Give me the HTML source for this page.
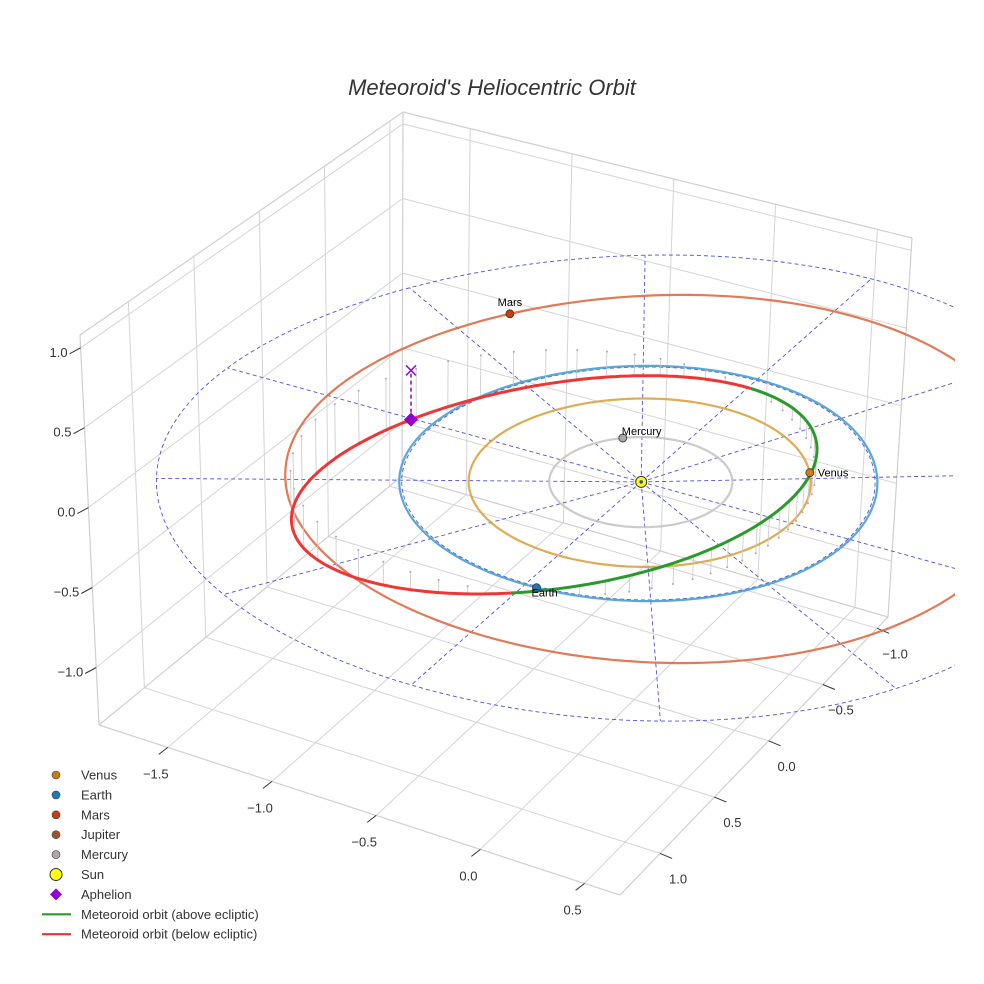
<!DOCTYPE html>
<html><head><meta charset="utf-8">
<style>
html,body{margin:0;padding:0;background:#fff;}
svg{display:block;font-family:"Liberation Sans",sans-serif;}
</style></head>
<body>
<svg id="chart" width="984" height="984" viewBox="0 0 984 984">
<defs><clipPath id="plotclip"><rect x="0" y="0" width="955" height="984"/></clipPath></defs>
<rect width="984" height="984" fill="#fff"/>
<text x="492" y="95" text-anchor="middle" font-size="22" font-style="italic" fill="#333">Meteoroid's Heliocentric Orbit</text>
<g id="grid"></g>
<g id="ticks"></g>
<g id="plot" clip-path="url(#plotclip)"></g>
<g id="legend"></g>
</svg>
<script>
// ---- data ----
const xTicks = [-1.5, -1.0, -0.5, 0.0, 0.5];
const yTicks = [1.0, 0.5, 0.0, -0.5, -1.0];
const zTicks = [1.0, 0.5, 0.0, -0.5, -1.0];
const planetNames = ["Mercury", "Venus", "Earth", "Mars"];
const planetRadius = [0.387, 0.723, 1.01, 1.58];
const planetCenterX = [0, 0, 0, 0.06];
const planetCenterY = [0, 0, 0, -0.1];
const planetAngleDeg = [-131, -35, 87, -145];
const planetOrbitColors = ["#c8c4c4", "#d9a441", "#4a9fd0", "#e06a45"];
const planetMarkerColors = ["#a9a9a9", "#d07f10", "#1f77b4", "#cc3d0e"];
const refRings = [1.0, 2.0];
const radialAnglesDeg = [0, 30, 60, 90, 120, 150, 180, 210, 240, 270, 300, 330];
// meteoroid orbital elements: a, e, inclination, node, arg of perihelion
const orbitA = [1.13];
const orbitE = [0.335];
const orbitIncDeg = [13.5];
const orbitNodeDeg = [-90];
const orbitPeriDeg = [76];
const aphelionNuDeg = [209];
const legendLabels = ["Venus","Earth","Mars","Jupiter","Mercury","Sun","Aphelion","Meteoroid orbit (above ecliptic)","Meteoroid orbit (below ecliptic)"];
const legendColors = ["#c87f0a","#1f77b4","#cc3d0e","#a0522d","#b0a8a8","#ffff00","#9400d3","#2a9a2a","#f03030"];

// ---- projection ----
const X0=-1.83,X1=0.67,Y0=1.37,Y1=-1.1,Z0=-1.36,Z1=1.08;
const Bb=[99,725],Cb=[620,895],Ab=[402,476],Db=[888,617];
const Bt=[80,335],Ct=[635,478],At=[403,112],Dt=[912,238];
function lerp(p,q,t){return [p[0]+(q[0]-p[0])*t,p[1]+(q[1]-p[1])*t];}
function P(x,y,z){
  const fx=(x-X0)/(X1-X0), t=(y-Y0)/(Y1-Y0), fz=(z-Z0)/(Z1-Z0);
  const bot=lerp(lerp(Bb,Cb,fx),lerp(Ab,Db,fx),t);
  const top=lerp(lerp(Bt,Ct,fx),lerp(At,Dt,fx),t);
  return lerp(bot,top,fz);
}
const NS="http://www.w3.org/2000/svg";
function mk(tag,attrs,parent){const e=document.createElementNS(NS,tag);for(const k in attrs)e.setAttribute(k,attrs[k]);parent.appendChild(e);return e;}
function line(p,q,st,parent){return mk('line',Object.assign({x1:p[0].toFixed(1),y1:p[1].toFixed(1),x2:q[0].toFixed(1),y2:q[1].toFixed(1)},st),parent);}
function pathFrom(pts){return pts.map((p,i)=>(i?'L':'M')+p[0].toFixed(1)+','+p[1].toFixed(1)).join('');}

const grid=document.getElementById('grid'), ticks=document.getElementById('ticks'), plot=document.getElementById('plot'), legend=document.getElementById('legend');
const gst={stroke:'#d4d4d4','stroke-width':1};
xTicks.forEach(x=>{const l=line(P(x,Y0,Z0),P(x,Y1,Z0),gst,grid);

});
yTicks.forEach(y=>{const l=line(P(X0,y,Z0),P(X1,y,Z0),gst,grid);

});
yTicks.forEach(y=>{const l=line(P(X0,y,Z0),P(X0,y,Z1),gst,grid);

});
zTicks.forEach(z=>{const l=line(P(X0,Y0,z),P(X0,Y1,z),gst,grid);

});
xTicks.forEach(x=>{const l=line(P(x,Y1,Z0),P(x,Y1,Z1),gst,grid);

});
zTicks.forEach(z=>{const l=line(P(X0,Y1,z),P(X1,Y1,z),gst,grid);

});
const est={stroke:'#cfcfcf','stroke-width':1.2};
[[P(X0,Y0,Z0),P(X1,Y0,Z0)],[P(X1,Y0,Z0),P(X1,Y1,Z0)],[P(X0,Y0,Z0),P(X0,Y1,Z0)],[P(X0,Y1,Z0),P(X1,Y1,Z0)],
 [P(X0,Y0,Z0),P(X0,Y0,Z1)],[P(X0,Y1,Z0),P(X0,Y1,Z1)],[P(X1,Y1,Z0),P(X1,Y1,Z1)],
 [P(X0,Y0,Z1),P(X0,Y1,Z1)],[P(X0,Y1,Z1),P(X1,Y1,Z1)]].forEach(e=>{const l=line(e[0],e[1],est,grid);

});

const tst={stroke:'#333','stroke-width':1};
xTicks.forEach(x=>{const p=P(x,Y0,Z0);line(p,[p[0]-9,p[1]+7],tst,ticks);
const t=mk('text',{x:(p[0]-12).toFixed(1),y:(p[1]+31).toFixed(1),'text-anchor':'middle','font-size':13,fill:'#333'},ticks);
t.textContent=(x<0?'\u2212':'')+Math.abs(x).toFixed(1);

});
yTicks.forEach(y=>{const p=P(X1,y,Z0);line(p,[p[0]+12,p[1]+5],tst,ticks);
const t=mk('text',{x:(p[0]+18).toFixed(1),y:(p[1]+30).toFixed(1),'text-anchor':'middle','font-size':13,fill:'#333'},ticks);
t.textContent=(y<0?'\u2212':'')+Math.abs(y).toFixed(1);

});
zTicks.forEach(z=>{const p=P(X0,Y0,z);line(p,[p[0]-11,p[1]+6],tst,ticks);
const t=mk('text',{x:(p[0]-13).toFixed(1),y:(p[1]+9).toFixed(1),'text-anchor':'end','font-size':13,fill:'#333'},ticks);
t.textContent=(z<0?'\u2212':'')+Math.abs(z).toFixed(1);

});

const dst={stroke:'#5050e0','stroke-width':0.9,'stroke-dasharray':'4,3',fill:'none'};
refRings.forEach(r=>{const pts=[];for(let a=0;a<=360;a+=2){const th=a*Math.PI/180;pts.push(P(r*Math.cos(th),r*Math.sin(th),0));}
const p=mk('path',Object.assign({d:pathFrom(pts)},dst),plot);

});
radialAnglesDeg.forEach(a=>{const th=a*Math.PI/180;const R=refRings[refRings.length-1];
const l=line(P(0,0,0),P(R*Math.cos(th),R*Math.sin(th),0),dst,plot);

});

planetNames.forEach((n,i)=>{const pts=[];for(let a=0;a<=360;a+=2){const th=a*Math.PI/180;pts.push(P(planetCenterX[i]+planetRadius[i]*Math.cos(th),planetCenterY[i]+planetRadius[i]*Math.sin(th),0));}
const p=mk('path',{d:pathFrom(pts),fill:'none',stroke:planetOrbitColors[i],'stroke-width':2.2,'stroke-opacity':0.9},plot);

});

const a=orbitA[0],e=orbitE[0],inc=orbitIncDeg[0]*Math.PI/180,Om=orbitNodeDeg[0]*Math.PI/180,w=orbitPeriDeg[0]*Math.PI/180;
function orb(nuDeg){const nu=nuDeg*Math.PI/180;const r=a*(1-e*e)/(1+e*Math.cos(nu));const u=w+nu;
return [r*(Math.cos(Om)*Math.cos(u)-Math.sin(Om)*Math.sin(u)*Math.cos(inc)),
        r*(Math.sin(Om)*Math.cos(u)+Math.cos(Om)*Math.sin(u)*Math.cos(inc)),
        r*Math.sin(u)*Math.sin(inc)];}
for(let nu=0;nu<360;nu+=6){const q=orb(nu);if(Math.abs(q[2])<0.03)continue;
const p1=P(q[0],q[1],q[2]),p0=P(q[0],q[1],0);
const l=line(p1,p0,{stroke:'#c8c8c8','stroke-width':0.8},plot);


const c=mk('circle',{cx:p0[0].toFixed(1),cy:p0[1].toFixed(1),r:1,fill:'#aaa'},plot);

}
let segs=[],cur=null,curSign=null;
for(let nu=0;nu<=360;nu+=1){const q=orb(nu);const s=q[2]>=0;const pt=P(q[0],q[1],q[2]);
if(s!==curSign){if(cur){cur.pts.push(pt);}cur={above:s,pts:[pt]};segs.push(cur);curSign=s;}else cur.pts.push(pt);}
segs.forEach(sg=>{const p=mk('path',{d:pathFrom(sg.pts),fill:'none',stroke:sg.above?'#2a9a2a':'#f03535','stroke-width':3,'stroke-linejoin':'round'},plot);

});
const aq=orb(aphelionNuDeg[0]),ap=P(aq[0],aq[1],aq[2]),ap0=P(aq[0],aq[1],0);
const al=line(ap,ap0,{stroke:'#9400d3','stroke-width':1.5,'stroke-dasharray':'4,3'},plot);


const ax=mk('path',{d:`M${ap0[0]-5},${ap0[1]-5}L${ap0[0]+5},${ap0[1]+5}M${ap0[0]+5},${ap0[1]-5}L${ap0[0]-5},${ap0[1]+5}`,stroke:'#9400d3','stroke-width':1.5},plot);


const ad=mk('path',{d:`M${ap[0]},${ap[1]-7}L${ap[0]+7},${ap[1]}L${ap[0]},${ap[1]+7}L${ap[0]-7},${ap[1]}Z`,fill:'#9400d3'},plot);



planetNames.forEach((n,i)=>{const th=planetAngleDeg[i]*Math.PI/180;const p=P(planetCenterX[i]+planetRadius[i]*Math.cos(th),planetCenterY[i]+planetRadius[i]*Math.sin(th),0);
const c=mk('circle',{cx:p[0].toFixed(1),cy:p[1].toFixed(1),r:4,fill:planetMarkerColors[i],stroke:'#333','stroke-width':0.8},plot);


let tx=p[0]+8,ty=p[1]+4,anc='start';
if(n==='Mars'){tx=p[0];ty=p[1]-8;anc='middle';}
if(n==='Mercury'){tx=p[0]-1;ty=p[1]-3;}
if(n==='Earth'){tx=p[0]-5;ty=p[1]+9;}
const t=mk('text',{x:tx.toFixed(1),y:ty.toFixed(1),'text-anchor':anc,'font-size':11,fill:'#000'},plot);
t.textContent=n;

});
const sp=P(0,0,0);
const sc=mk('circle',{cx:sp[0],cy:sp[1],r:5.5,fill:'#ffff00',stroke:'#333','stroke-width':1},plot);


const sd=mk('circle',{cx:sp[0],cy:sp[1],r:1.8,fill:'#3050c0'},plot);



legendLabels.forEach((lab,i)=>{const y=775+i*19.9;
let m;
if(i<5){m=mk('circle',{cx:56,cy:y,r:4,fill:legendColors[i],stroke:'#444','stroke-width':0.6},legend);}
else if(i===5){m=mk('circle',{cx:56,cy:y,r:6,fill:legendColors[i],stroke:'#333','stroke-width':1},legend);}
else if(i===6){m=mk('path',{d:`M56,${y-6}L62,${y}L56,${y+6}L50,${y}Z`,fill:legendColors[i]},legend);}
else {m=mk('line',{x1:42,y1:y,x2:71,y2:y,stroke:legendColors[i],'stroke-width':2.2},legend);}


const t=mk('text',{x:81,y:y+4.5,'font-size':13,fill:'#333'},legend);
t.textContent=lab;

});
</script>
</body></html>
